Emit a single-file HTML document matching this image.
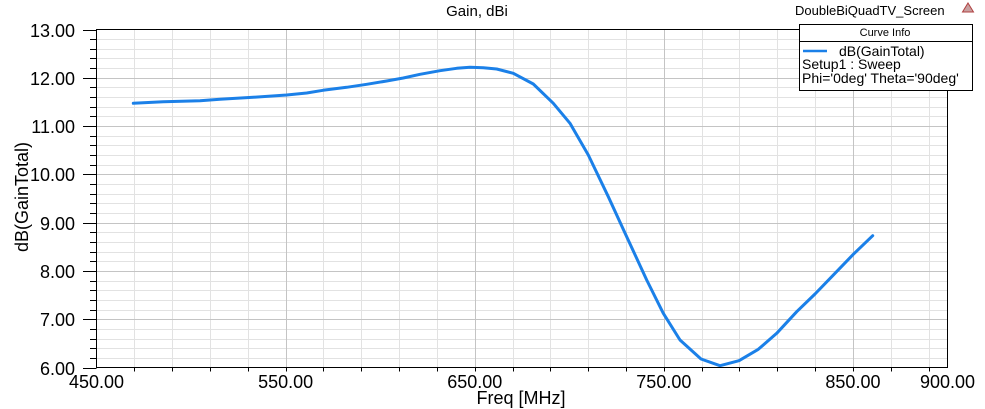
<!DOCTYPE html>
<html><head><meta charset="utf-8"><style>
html,body{margin:0;padding:0;background:#fff;}
svg{display:block;font-family:"Liberation Sans",Arial,sans-serif;}
</style></head><body>
<svg width="985" height="409" viewBox="0 0 985 409" xmlns="http://www.w3.org/2000/svg">
<rect width="985" height="409" fill="#fff"/>
<g id="grid"></g>
<g id="curve">
<polyline fill="none" stroke="#1b80e8" stroke-width="3" stroke-linejoin="round" stroke-linecap="round"
points="133.3,103.3 163.3,101.7 200,100.7 220,99.3 253.3,97.3 286.7,95 306.7,93 323,90.3 346.7,87.3 366.7,84.3 386.7,81 403.3,78 420,74.3 440,70.7 456.7,68.3 470,67.3 483.3,67.7 496.7,69 513.3,73.3 533.3,84 553.3,103.3 570,123.3 588.3,155 608.3,196.7 626.7,236.7 646.7,280 663.3,313.3 680,340 701,359 720,365.7 739,360.7 758.3,349.3 776.7,333.3 796.7,311.7 815,294 835,273.3 853.3,254.3 872.7,235.7"/>
</g>
<rect x="96.5" y="29.5" width="851" height="338" fill="none" stroke="#000" stroke-width="1"/>
<g id="ticks" stroke="#000" stroke-width="1"></g>
<g id="labels" font-size="18" fill="#000"></g>
<text x="477" y="16" font-size="15" text-anchor="middle">Gain, dBi</text>
<text x="521" y="404" font-size="18" text-anchor="middle">Freq [MHz]</text>
<text x="0" y="0" font-size="18" text-anchor="middle" transform="translate(28,197) rotate(-90)">dB(GainTotal)</text>
<text x="795" y="15" font-size="13">DoubleBiQuadTV_Screen</text>
<polygon points="968,3 973.5,12 962.5,12" fill="#c8a0a0" stroke="#b04040" stroke-width="1"/>
<rect x="799.5" y="24.5" width="173" height="66" fill="#fff" stroke="#000" stroke-width="1"/>
<line x1="799.5" y1="41.5" x2="972.5" y2="41.5" stroke="#000" stroke-width="1"/>
<text x="885" y="36" font-size="11" text-anchor="middle">Curve Info</text>
<line x1="803" y1="51" x2="827" y2="51" stroke="#1b80e8" stroke-width="2.5"/>
<text x="839" y="56" font-size="14">dB(GainTotal)</text>
<text x="802" y="69" font-size="14">Setup1 : Sweep</text>
<text x="802" y="83" font-size="14">Phi='0deg' Theta='90deg'</text>
<script>
(function(){
var ns="http://www.w3.org/2000/svg";
function X(f){return 96.5+(f-450)*851/450;}
function Y(v){return 29.5+(13-v)*338/7;}
var grid=document.getElementById("grid"),ticks=document.getElementById("ticks"),labels=document.getElementById("labels");
function line(g,x1,y1,x2,y2,c){var l=document.createElementNS(ns,"line");l.setAttribute("x1",x1);l.setAttribute("y1",y1);l.setAttribute("x2",x2);l.setAttribute("y2",y2);if(c){l.setAttribute("stroke",c);l.setAttribute("stroke-width","1");}g.appendChild(l);}
function txt(x,y,s,a){var t=document.createElementNS(ns,"text");t.setAttribute("x",x);t.setAttribute("y",y);t.setAttribute("text-anchor",a);t.textContent=s;labels.appendChild(t);}
// minor first
for(var f=470;f<900;f+=20){if((f-450)%100===0)continue;var x=Math.round(X(f))+0.5;line(grid,x,29.5,x,367.5,"#e2e2e2");line(ticks,x,367.5,x,371.5);}
for(var i=1;i<35;i++){if(i%5===0)continue;var y=Math.round(Y(6+i*0.2))+0.5;line(grid,96.5,y,947.5,y,"#e2e2e2");line(ticks,90,y,96.5,y);}
for(var f=550;f<900;f+=100){var x=Math.round(X(f))+0.5;line(grid,x,29.5,x,367.5,"#c4c4c4");line(ticks,x,367.5,x,371.5);}
for(var v=7;v<13;v++){var y=Math.round(Y(v))+0.5;line(grid,96.5,y,947.5,y,"#c4c4c4");}
for(var v=6;v<=13;v++){var y=Math.round(Y(v))+0.5;line(ticks,83,y,96.5,y);txt(75,y+6.5,v.toFixed(2),"end");}
for(var f=450;f<=900;f+=100){txt(X(f),388,f.toFixed(2),"middle");}
txt(X(900),388,"900.00","middle");
})();
</script>
</svg>
</body></html>
